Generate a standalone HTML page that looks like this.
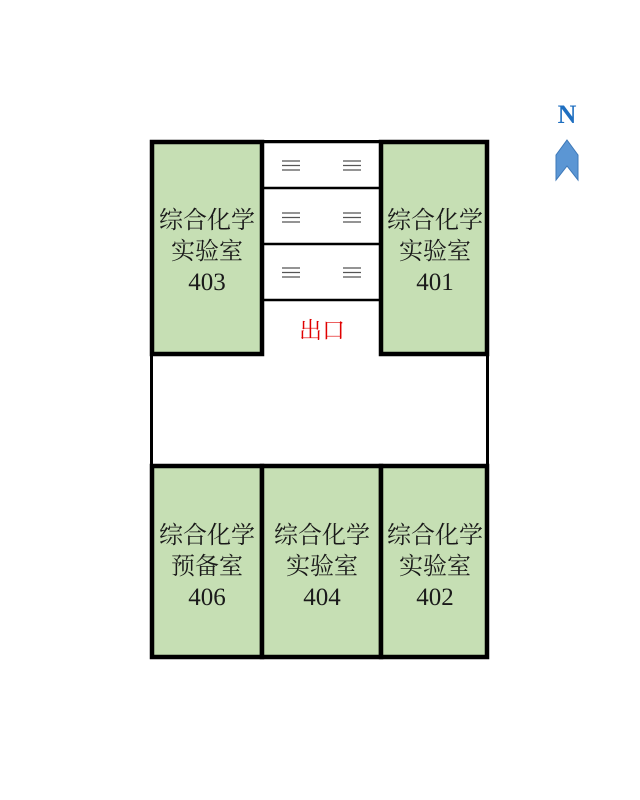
<!DOCTYPE html>
<html><head><meta charset="utf-8"><style>
html,body{margin:0;padding:0;background:#fff;}
svg{display:block}
text{font-family:"Liberation Serif","Noto Serif CJK SC",serif;fill:#1a1a1a;font-size:24px;text-anchor:middle}
</style></head><body>
<svg width="640" height="800" viewBox="0 0 640 800">
<rect x="151.5" y="141.5" width="336" height="516" fill="#fff" stroke="#000" stroke-width="3"/>
<g fill="#c6dfb4" stroke="#000" stroke-width="4.5">
<rect x="152" y="142" width="110" height="212"/>
<rect x="381" y="142" width="106" height="212"/>
<rect x="152" y="466" width="110" height="191"/>
<rect x="262" y="466" width="119" height="191"/>
<rect x="381" y="466" width="106" height="191"/>
</g>
<g stroke="#000" stroke-width="2.5" fill="none">
<line x1="262" y1="142" x2="381" y2="142"/>
<line x1="262" y1="188" x2="381" y2="188"/>
<line x1="262" y1="244" x2="381" y2="244"/>
<line x1="262" y1="300" x2="381" y2="300"/>
</g>
<g stroke="#555" stroke-width="1.3">
<path d="M282 161h18M282 165.5h18M282 170h18M343 161h18M343 165.5h18M343 170h18"/>
<path d="M282 213h18M282 217.5h18M282 222h18M343 213h18M343 217.5h18M343 222h18"/>
<path d="M282 268h18M282 272.5h18M282 277h18M343 268h18M343 272.5h18M343 277h18"/>
</g>
<text x="322" y="338" style="fill:#e00000;font-size:23px">出口</text>
<g>
<text x="207" y="228">综合化学</text><text x="207" y="259">实验室</text><text x="207" y="290" style="font-size:25px">403</text>
<text x="435" y="228">综合化学</text><text x="435" y="259">实验室</text><text x="435" y="290" style="font-size:25px">401</text>
<text x="207" y="543">综合化学</text><text x="207" y="574">预备室</text><text x="207" y="605" style="font-size:25px">406</text>
<text x="322" y="543">综合化学</text><text x="322" y="574">实验室</text><text x="322" y="605" style="font-size:25px">404</text>
<text x="435" y="543">综合化学</text><text x="435" y="574">实验室</text><text x="435" y="605" style="font-size:25px">402</text>
</g>
<text x="567" y="123" style="fill:#1f6fc0;font-weight:bold;font-size:26px">N</text>
<polygon points="567,140 578,155 578,180 567,166 556,180 556,155" fill="#5b96d4" stroke="#3d78b8" stroke-width="1"/>
</svg>
</body></html>
